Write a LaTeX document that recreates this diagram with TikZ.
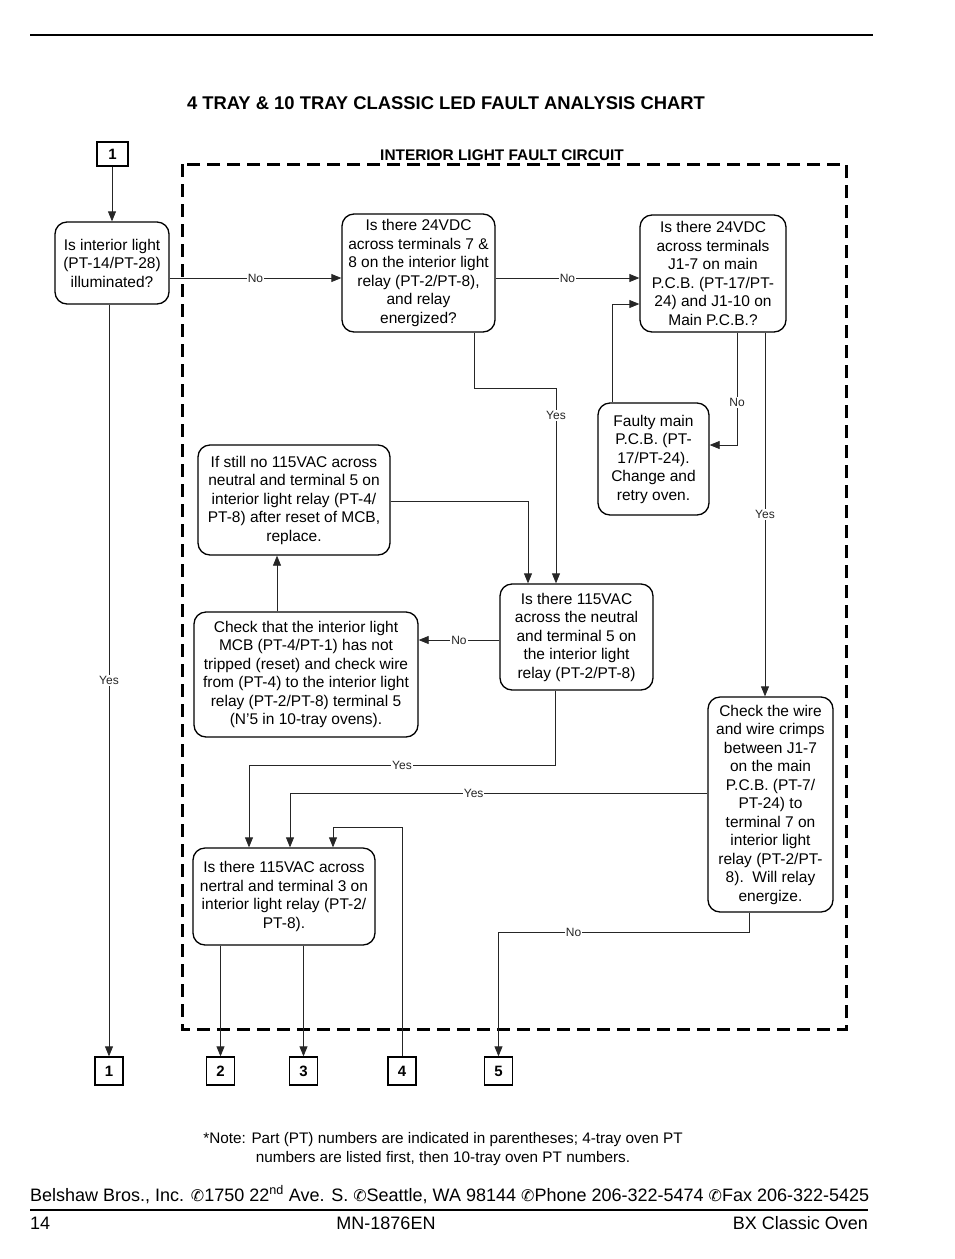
\documentclass[tikz,border=0pt]{standalone}
\usepackage{fontspec}
\setmainfont{Liberation Sans}
\newfontfamily\symfont{DejaVu Sans}
\usetikzlibrary{arrows.meta}
\newcommand{\tel}{{\symfont\fontsize{16}{18}\selectfont ✆}}
\begin{document}
\begin{tikzpicture}[x=1pt, y=-1pt,
    chk/.style={draw, line width=1.3pt, rounded corners=12pt, inner sep=0pt, align=center, font=\fontsize{15.5}{18.5}\selectfont},
    tag/.style={draw, line width=1.3pt, inner sep=0pt, minimum width=28pt, minimum height=28pt, font=\bfseries\fontsize{15}{18}\selectfont},
    link/.style={line width=0.8pt, black!85, -{Triangle[length=10pt, width=8pt]}},
    lab/.style={fill=white, inner sep=1pt, font=\fontsize{12}{13}\selectfont}]
    \useasboundingbox (0,0) rectangle (954,1259);
    % page rules and headings
    \draw[line width=2pt] (30,35) -- (873,35);
    \node[anchor=base, font=\bfseries\fontsize{18.4}{20}\selectfont] (title) at (446,109) {4 TRAY \& 10 TRAY CLASSIC LED FAULT ANALYSIS CHART};
    \draw[line width=3pt, dash pattern=on 13pt off 7pt] (182,164) rectangle (846,1029);
    \node[anchor=base, font=\bfseries\fontsize{15.4}{17}\selectfont] (circuit) at (502,160) {INTERIOR LIGHT FAULT CIRCUIT};
    % entry and exit tags
    \node[tag, minimum width=31pt, minimum height=24pt] (top1) at (112.5,154) {1};
    \node[tag] (bot1) at (109,1071) {1};
    \node[tag] (bot2) at (220.5,1071) {2};
    \node[tag] (bot3) at (303.5,1071) {3};
    \node[tag] (bot4) at (402,1071) {4};
    \node[tag] (bot5) at (498.5,1071) {5};
    % checks
    \node[chk, minimum width=114pt, minimum height=82pt] (A) at (112,263) {Is interior light\\(PT-14/PT-28)\\illuminated?};
    \node[chk, minimum width=153pt, minimum height=118pt] (B) at (418.5,273) {Is there 24VDC\\across terminals 7 \&\\8 on the interior light\\relay (PT-2/PT-8),\\and relay\\energized?};
    \node[chk, minimum width=146pt, minimum height=117pt] (C) at (713,273.5) {Is there 24VDC\\across terminals\\J1-7 on main\\P.C.B. (PT-17/PT-\\24) and J1-10 on\\Main P.C.B.?};
    \node[chk, minimum width=111pt, minimum height=112pt] (D) at (653.5,459) {Faulty main\\P.C.B. (PT-\\17/PT-24).\\Change and\\retry oven.};
    \node[chk, minimum width=192pt, minimum height=110pt] (E) at (294,500) {If still no 115VAC across\\neutral and terminal 5 on\\interior light relay (PT-4/\\PT-8) after reset of MCB,\\replace.};
    \node[chk, minimum width=153pt, minimum height=106pt] (F) at (576.5,637) {Is there 115VAC\\across the neutral\\and terminal 5 on\\the interior light\\relay (PT-2/PT-8)};
    \node[chk, minimum width=224pt, minimum height=125pt] (H) at (306,674.5) {Check that the interior light\\MCB (PT-4/PT-1) has not\\tripped (reset) and check wire\\from (PT-4) to the interior light\\relay (PT-2/PT-8) terminal 5\\(N'5 in 10-tray ovens).};
    \node[chk, minimum width=125pt, minimum height=215pt] (G) at (770.5,804.5) {Check the wire\\and wire crimps\\between J1-7\\on the main\\P.C.B. (PT-7/\\PT-24) to\\terminal 7 on\\interior light\\relay (PT-2/PT-\\8).\ \ Will relay\\energize.};
    \node[chk, minimum width=182pt, minimum height=97pt] (I) at (284,896.5) {Is there 115VAC across\\nertral and terminal 3 on\\interior light relay (PT-2/\\PT-8).};
    % bend points
    \coordinate (noAB) at (0,278);
    \coordinate (dc) at (612,304);
    \coordinate (cd) at (737,445);
    \coordinate (cg) at (765,0);
    \coordinate (bf) at (474,388);
    \coordinate (bf2) at (556,0);
    \coordinate (ef) at (528,501);
    \coordinate (fh) at (0,640);
    \coordinate (he) at (277,0);
    \coordinate (fi) at (555,765);
    \coordinate (fi2) at (249,0);
    \coordinate (gi) at (290,793);
    \coordinate (fouri) at (333,827);
    \coordinate (g5) at (749,932);
    % connectors
    \draw[link] (top1.south -| A) -- (A.north);
    \draw[link] (A.east |- noAB) -- node[lab]{No} (B.west |- noAB);
    \draw[link] (B.east |- noAB) -- node[lab]{No} (C.west |- noAB);
    \draw[link] (D.north -| dc) |- (C.west |- dc);
    \draw[link] (C.south -| cd) |- node[lab, pos=0.31]{No} (D.east |- cd);
    \draw[link] (C.south -| cg) -- node[lab]{Yes} (G.north -| cg);
    \draw[link] (B.south -| bf) -- (bf) -| node[lab, pos=0.57]{Yes} (F.north -| bf2);
    \draw[link] (E.east |- ef) -| (F.north -| ef);
    \draw[link] (F.west |- fh) -- node[lab]{No} (H.east |- fh);
    \draw[link] (H.north -| he) -- (E.south -| he);
    \draw[link] (F.south -| fi) -- (fi) -| node[lab, pos=0.25]{Yes} (I.north -| fi2);
    \draw[link] (G.west |- gi) -| node[lab, pos=0.28]{Yes} (I.north -| gi);
    \draw[link] (bot4.north) |- (fouri) -- (I.north -| fouri);
    \draw[link] (I.south -| bot2) -- (bot2.north);
    \draw[link] (I.south -| bot3) -- (bot3.north);
    \draw[link] (G.south -| g5) -- (g5) -| node[lab, pos=0.35]{No} (bot5.north);
    \draw[link] (A.south -| bot1) -- node[lab]{Yes} (bot1.north);
    % note and footer
    \node[anchor=base, font=\fontsize{15.3}{17}\selectfont] (note1) at (443,1143) {*Note: Part (PT) numbers are indicated in parentheses; 4-tray oven PT};
    \node[anchor=base, font=\fontsize{15.3}{17}\selectfont] (note2) at (443,1162) {numbers are listed first, then 10-tray oven PT numbers.};
    \node[anchor=base west, inner sep=0pt, font=\fontsize{18}{20}\selectfont] (addr) at (30,1201) {Belshaw Bros., Inc. \tel1750 22\textsuperscript{nd} Ave. S. \tel Seattle, WA 98144 \tel Phone 206-322-5474 \tel Fax 206-322-5425};
    \draw[line width=1.5pt] (30,1210) -- (868,1210);
    \node[anchor=base west, inner sep=0pt, font=\fontsize{18}{20}\selectfont] (page) at (30,1229) {14};
    \node[anchor=base, inner sep=0pt, font=\fontsize{18}{20}\selectfont] (doc) at (386,1229) {MN-1876EN};
    \node[anchor=base east, inner sep=0pt, font=\fontsize{18}{20}\selectfont] (model) at (868,1229) {BX Classic Oven};
\end{tikzpicture}
\end{document}
